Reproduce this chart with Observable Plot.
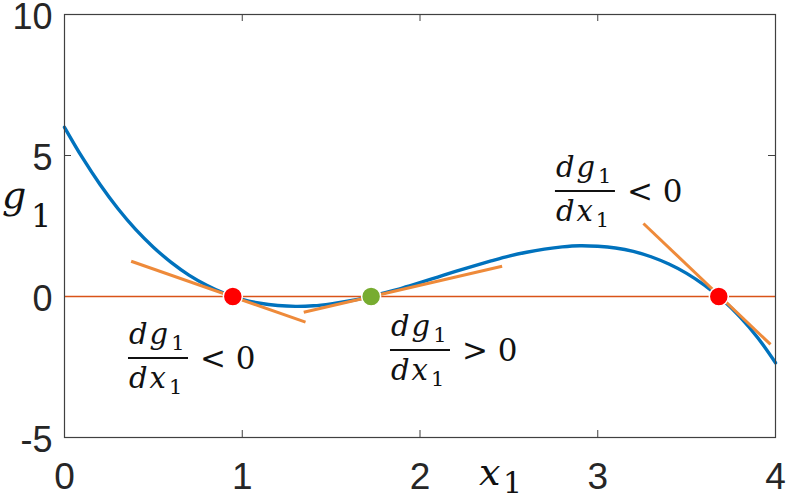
<!DOCTYPE html>
<html>
<head>
<meta charset="utf-8">
<script src="https://cdn.jsdelivr.net/npm/d3@7"></script>
<script src="https://cdn.jsdelivr.net/npm/@observablehq/plot@0.6"></script>
<style>
  html, body { margin: 0; padding: 0; background: #fff; }
</style>
</head>
<body>
<div id="chart"></div>
<script>
// ---- data ----
const xTicks = [0, 1, 2, 3, 4];
const yTicks = [-5, 0, 5, 10];
const curveX = [0, 0.1, 0.2, 0.3, 0.4, 0.5, 0.6, 0.7, 0.8, 0.9, 1.0, 1.1, 1.2, 1.3, 1.4, 1.5, 1.6, 1.7, 1.8, 1.9, 2.0,
                2.1, 2.2, 2.3, 2.4, 2.5, 2.6, 2.7, 2.8, 2.9, 3.0, 3.1, 3.2, 3.3, 3.4, 3.5, 3.6, 3.7, 3.8, 3.9, 4.0];
const curveY = [6.0, 4.93, 3.97, 3.12, 2.38, 1.75, 1.21, 0.76, 0.40, 0.11, -0.10, -0.24, -0.32, -0.35, -0.33, -0.26, -0.16, -0.03, 0.13, 0.30, 0.49,
                0.69, 0.89, 1.08, 1.26, 1.43, 1.57, 1.68, 1.76, 1.80, 1.78, 1.72, 1.60, 1.41, 1.15, 0.82, 0.40, -0.11, -0.72, -1.46, -2.35];
const rootX = [0.947, 1.725, 3.681];
const rootColor = ["#FF0000", "#77AC30", "#FF0000"];
const tangentX1 = [0.375, 1.346, 3.257];
const tangentY1 = [1.25, -0.56, 2.59];
const tangentX2 = [1.356, 2.462, 3.972];
const tangentY2 = [-0.91, 1.07, -1.70];
const labelX = [0.36, 1.834, 2.762];     // left end of each fraction bar
const labelY = [-2.2, -1.915, 3.72];     // height of each fraction bar
const labelRel = ["< 0", "> 0", "< 0"];

const curve = curveX.map((x, i) => ({x, y: curveY[i]}));
const roots = rootX.map((x, i) => ({x, y: 0, c: rootColor[i]}));
const tangents = tangentX1.map((x1, i) => ({x1, y1: tangentY1[i], x2: tangentX2[i], y2: tangentY2[i]}));
const labels = labelX.map((x, i) => ({x, y: labelY[i], rel: labelRel[i]}));

const W = 787, H = 498;
const mL = 64, mR = 12, mT = 14, mB = 61;
const fw = W - mL - mR, fh = H - mT - mB;
const tickLen = 7;
const axisColor = "#404040";
const serif = "'DejaVu Serif', serif";

function mathLabels(index, scales) {
  const g = d3.create("svg:g").attr("font-family", serif).attr("fill", "#111").attr("text-anchor", "start");
  for (const d of labels) {
    const px = scales.x(d.x), py = scales.y(d.y);
    const t = g.append("g").attr("transform", `translate(${px},${py})`);
    t.append("line").attr("x1", 0).attr("x2", 60).attr("y1", 0).attr("y2", 0)
      .attr("stroke", "#111").attr("stroke-width", 2);
    const num = t.append("text").attr("x", 1).attr("y", -14).attr("font-size", 29);
    num.append("tspan").attr("font-style", "italic").attr("letter-spacing", 2).text("dg");
    num.append("tspan").attr("font-size", 21).attr("dy", 6).attr("dx", 1).text("1");
    const den = t.append("text").attr("x", 1).attr("y", 30).attr("font-size", 29);
    den.append("tspan").attr("font-style", "italic").attr("letter-spacing", 2).text("dx");
    den.append("tspan").attr("font-size", 21).attr("dy", 6).attr("dx", 1).text("1");
    t.append("text").attr("x", 72).attr("y", 11).attr("font-size", 31).text(d.rel);
  }
  // axis labels
  const gl = g.append("text").attr("x", 2).attr("y", 208).attr("font-size", 38);
  gl.append("tspan").attr("font-style", "italic").text("g");
  g.append("text").attr("x", 31).attr("y", 227).attr("font-size", 32).text("1");
  const xl = g.append("text").attr("x", 479).attr("y", 485).attr("font-size", 38);
  xl.append("tspan").attr("font-style", "italic").text("x");
  g.append("text").attr("x", 503).attr("y", 493).attr("font-size", 30).text("1");
  return g.node();
}

const chart = Plot.plot({
  width: W,
  height: H,
  marginLeft: mL,
  marginRight: mR,
  marginTop: mT,
  marginBottom: mB,
  style: {fontFamily: "'Liberation Sans', Arial, Helvetica, sans-serif", color: "#262626", background: "#fff"},
  x: {domain: [0, 4]},
  y: {domain: [-5, 10]},
  marks: [
    Plot.axisX({ticks: xTicks, tickSize: 0, tickPadding: 25, fontSize: 37, label: null, tickFormat: d => String(d)}),
    Plot.axisY({ticks: yTicks, tickSize: 0, tickPadding: 12, fontSize: 36, label: null, dy: 3, tickFormat: d => String(d)}),
    Plot.tickX(xTicks, {x: d => d, insetTop: fh - tickLen, stroke: axisColor}),
    Plot.tickX(xTicks, {x: d => d, insetBottom: fh - tickLen, stroke: axisColor}),
    Plot.tickY(yTicks, {y: d => d, insetRight: fw - tickLen, stroke: axisColor}),
    Plot.tickY(yTicks, {y: d => d, insetLeft: fw - tickLen, stroke: axisColor}),
    Plot.ruleY([0], {stroke: "#D95319", strokeWidth: 1.6}),
    Plot.line(curve, {x: "x", y: "y", stroke: "#0072BD", strokeWidth: 3.4, curve: "catmull-rom"}),
    Plot.link(tangents, {x1: "x1", y1: "y1", x2: "x2", y2: "y2", stroke: "#EE8A3A", strokeWidth: 3}),
    Plot.dot(roots, {x: "x", y: "y", r: 9.5, fill: "c", stroke: "#fff", strokeWidth: 1.5}),
    Plot.frame({stroke: axisColor, strokeWidth: 1.2}),
    mathLabels
  ]
});
document.getElementById("chart").appendChild(chart);
</script>
</body>
</html>
